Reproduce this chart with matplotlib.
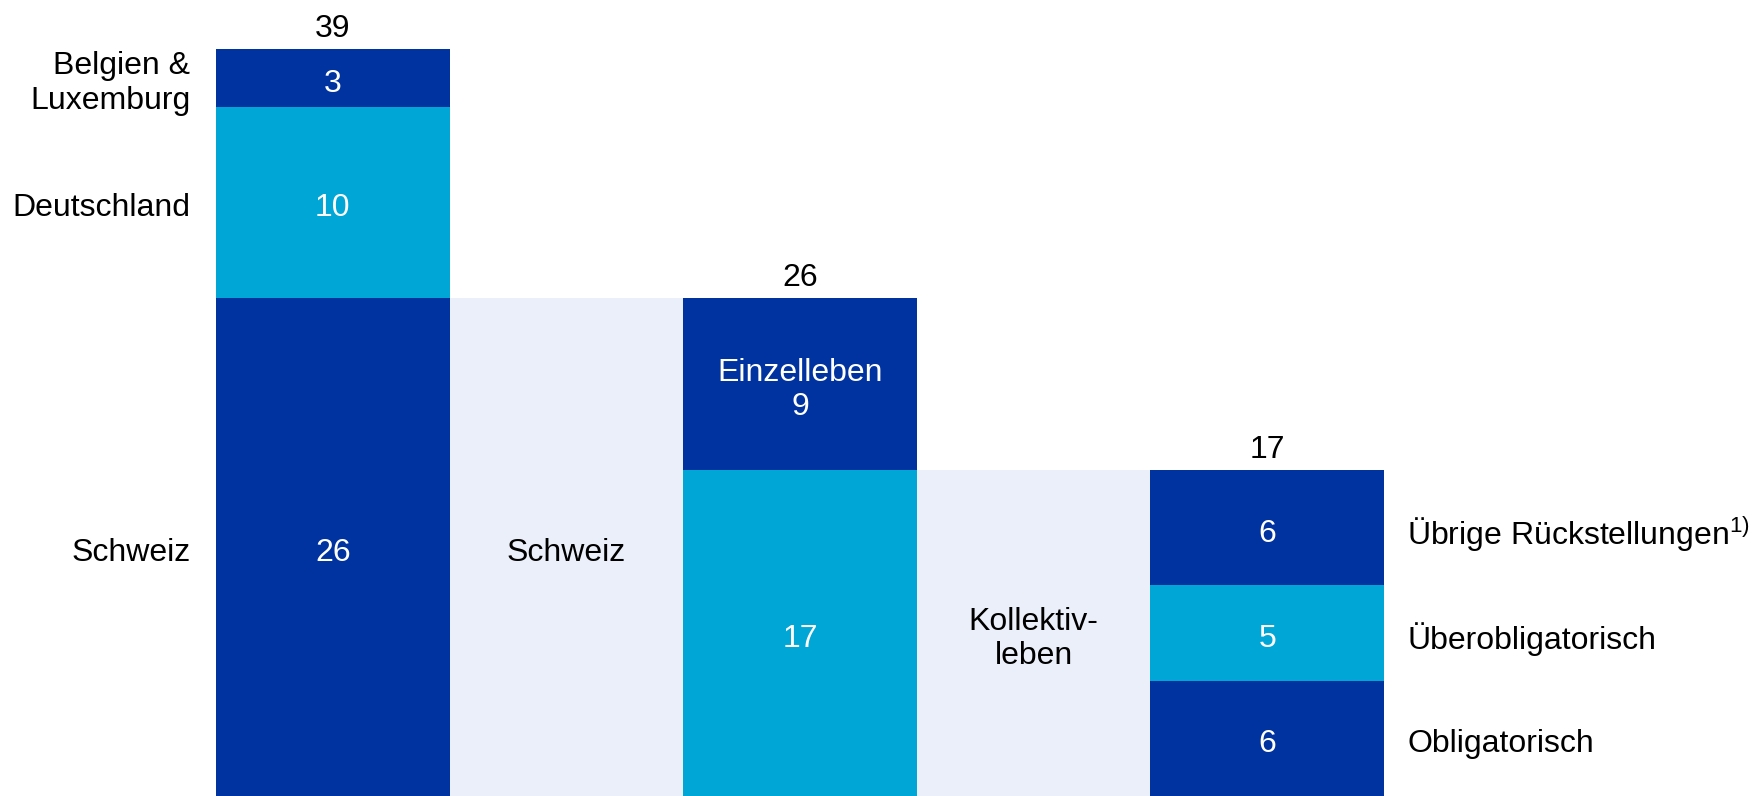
import matplotlib.pyplot as plt

plt.rcParams["font.family"] = ["Liberation Sans", "DejaVu Sans"]
plt.rcParams["mathtext.fontset"] = "custom"
plt.rcParams["mathtext.rm"] = "Liberation Sans"

DARK = "#0033a0"
CYAN = "#00a6d6"
PALE = "#ebeff9"

# column 1: total by country
countries = ["Schweiz", "Deutschland", "Belgien &\nLuxemburg"]
country_values = [26, 10, 3]
country_colors = [DARK, CYAN, DARK]

# column 2: bridge
bridge1_label = "Schweiz"
bridge1_value = 26

# column 3: Schweiz split
swiss_labels = ["", "Einzelleben\n"]
swiss_values = [17, 9]
swiss_colors = [CYAN, DARK]

# column 4: bridge
bridge2_label = "Kollektiv-\nleben"
bridge2_value = 17

# column 5: Kollektivleben split
group_labels = ["Obligatorisch", "Überobligatorisch", "Übrige Rückstellungen$^{1)}$"]
group_values = [6, 5, 6]
group_colors = [DARK, CYAN, DARK]

fs = 23
dy = -0.3  # text sits a bit lower than bbox centre in the original
fig = plt.figure(figsize=(17.54, 7.96), dpi=100)
ax = fig.add_axes([0, 0, 1, 1])


def stack(x, values, colors, texts=None):
    bottom = 0
    for i, (v, c) in enumerate(zip(values, colors)):
        ax.bar(x, v, bottom=bottom, width=1, align="edge", color=c, linewidth=0)
        t = (texts[i] if texts else "") + str(v)
        ax.text(x + 0.5, bottom + v / 2 + dy, t, color="white", fontsize=fs,
                ha="center", va="center")
        bottom += v
    ax.text(x + 0.5, bottom + 0.27, str(sum(values)), fontsize=fs,
            ha="center", va="bottom")
    return bottom


stack(0, country_values, country_colors)
b = 0
for lab, v in zip(countries, country_values):
    ax.text(-0.11, b + v / 2 + dy, lab, fontsize=fs, ha="right", va="center")
    b += v

ax.bar(1, bridge1_value, width=1, align="edge", color=PALE, linewidth=0)
ax.text(1.5, bridge1_value / 2 + dy, bridge1_label, fontsize=fs,
        ha="center", va="center")

stack(2, swiss_values, swiss_colors, swiss_labels)

ax.bar(3, bridge2_value, width=1, align="edge", color=PALE, linewidth=0)
ax.text(3.5, bridge2_value / 2 + dy, bridge2_label, fontsize=fs,
        ha="center", va="center", multialignment="center")

stack(4, group_values, group_colors)
b = 0
for lab, v in zip(group_labels, group_values):
    ax.text(5.1, b + v / 2 + dy, lab, fontsize=fs, ha="left", va="center")
    b += v

ax.set_xlim(-0.925, 6.584)
ax.set_ylim(0, 41.57)
ax.axis("off")

plt.savefig("out.png", dpi=100)
